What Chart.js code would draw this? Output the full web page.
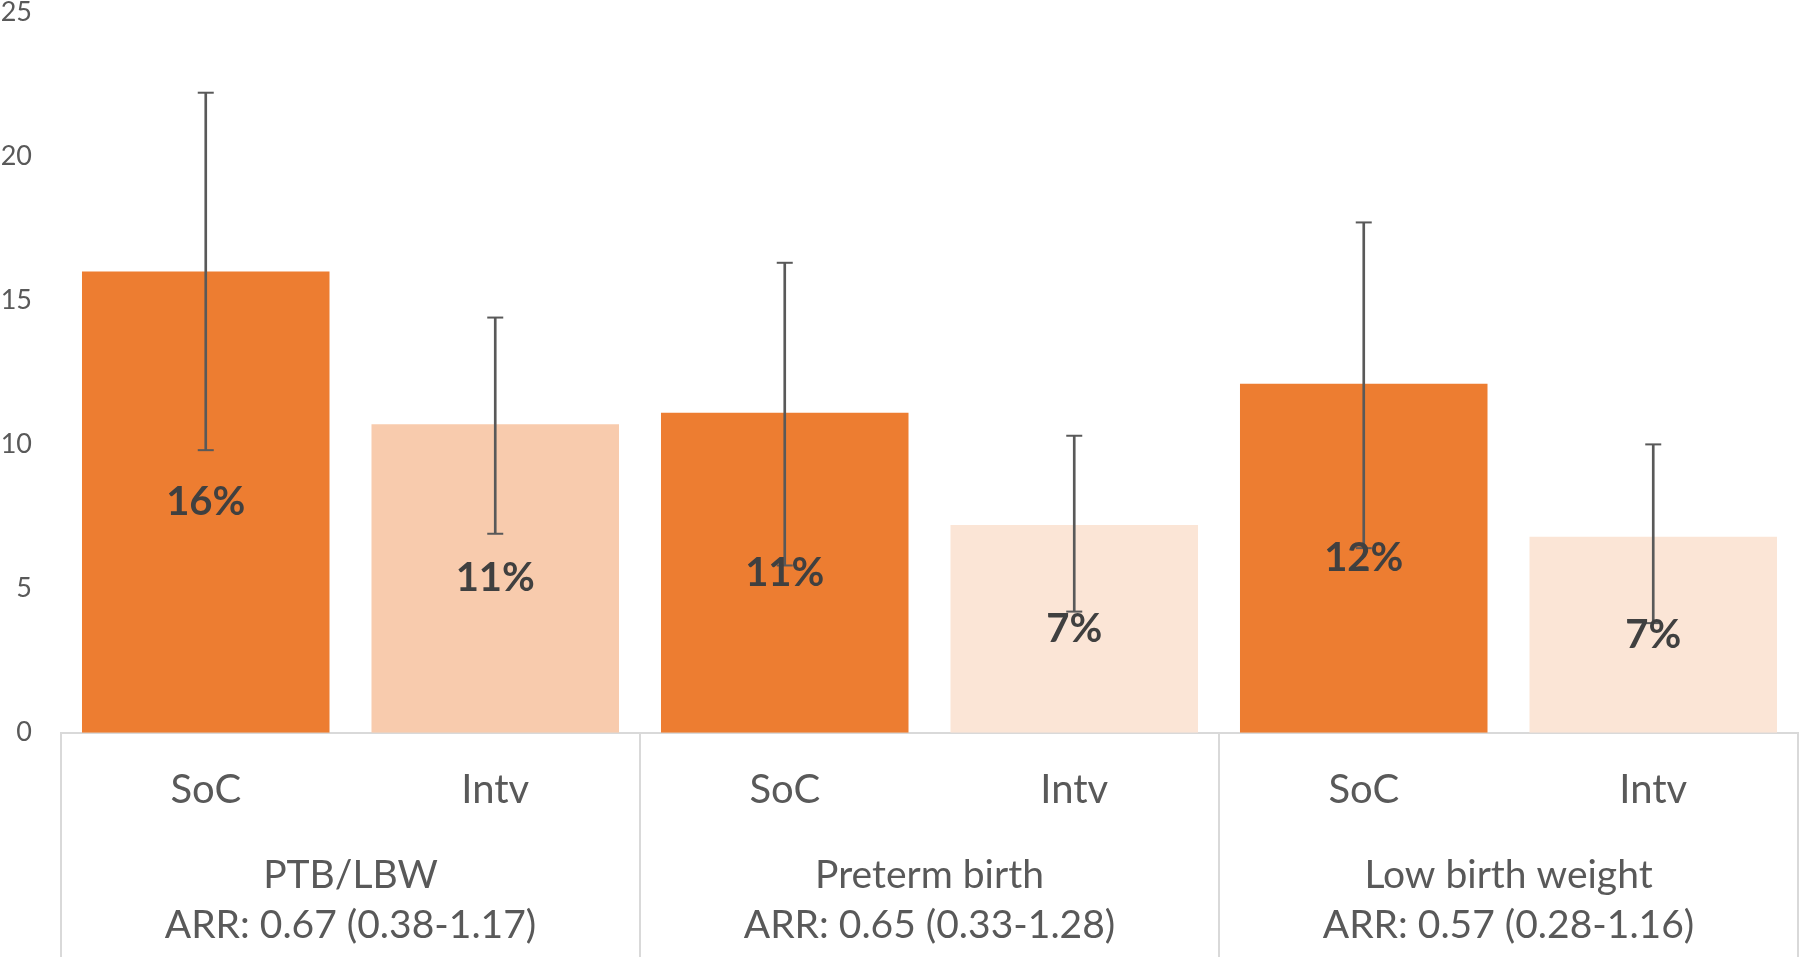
<!DOCTYPE html>
<html>
<head>
<meta charset="utf-8">
<script src="https://cdn.jsdelivr.net/npm/chart.js@4.4.1/dist/chart.umd.min.js"></script>
<style>
  html, body { margin: 0; padding: 0; background: #fff; overflow: hidden; }
  #wrap { width: 1800px; height: 957px; position: relative; }
</style>
</head>
<body>
<div id="wrap"><canvas id="c"></canvas></div>
<script>
// ---- data ----
const categories = ['SoC', 'Intv', 'SoC', 'Intv', 'SoC', 'Intv'];
const values     = [16.0, 10.7, 11.1, 7.2, 12.1, 6.8];
const errLow     = [9.8, 6.9, 5.8, 4.2, 6.4, 3.8];
const errHigh    = [22.2, 14.4, 16.3, 10.3, 17.7, 10.0];
const valueLabels = ['16%', '11%', '11%', '7%', '12%', '7%'];
const groups     = ['PTB/LBW', 'Preterm birth', 'Low birth weight'];
const groupArr   = ['ARR: 0.67 (0.38-1.17)', 'ARR: 0.65 (0.33-1.28)', 'ARR: 0.57 (0.28-1.16)'];
const yTicks     = [0, 5, 10, 15, 20, 25];

const barColors = ['#ED7D31', '#F8CBAD', '#ED7D31', '#FBE5D6', '#ED7D31', '#FBE5D6'];
const FONT = 'Lato, "Open Sans", sans-serif';

const valueLabelPlugin = {
  id: 'valueLabels',
  afterDatasetsDraw(chart) {
    const meta = chart.getDatasetMeta(0);
    const ctx = chart.ctx;
    ctx.save();
    ctx.font = 'bold 40px ' + FONT;
    ctx.fillStyle = '#404040';
    ctx.textAlign = 'center';
    ctx.textBaseline = 'middle';
    meta.data.forEach((el, i) => {
      const { x, y, base } = el.getProps(['x', 'y', 'base'], true);
      ctx.fillText(valueLabels[i], x, (y + base) / 2);
    });
    ctx.restore();
  }
};

const dividerPlugin = {
  id: 'dividers',
  afterDraw(chart) {
    const xs = chart.scales.x;
    const ctx = chart.ctx;
    const top = chart.chartArea.bottom;
    const bottom = chart.height;
    const n = categories.length;
    const positions = [];
    for (let i = 0; i <= n; i += 2) {
      let px;
      if (i === 0) px = xs.left;
      else if (i === n) px = xs.right;
      else px = (xs.getPixelForValue(i - 1) + xs.getPixelForValue(i)) / 2;
      positions.push(px);
    }
    ctx.save();
    ctx.strokeStyle = '#D9D9D9';
    ctx.lineWidth = 2;
    positions.forEach(px => {
      ctx.beginPath();
      ctx.moveTo(px, top);
      ctx.lineTo(px, bottom);
      ctx.stroke();
    });
    ctx.restore();
  }
};

function noPad(scale) {
  scale.paddingLeft = 0; scale.paddingRight = 0;
  scale.paddingTop = 0; scale.paddingBottom = 0;
}

function build() {
  new Chart(document.getElementById('c'), {
    type: 'bar',
    data: {
      labels: categories,
      datasets: [
        {
          data: values,
          backgroundColor: barColors,
          borderWidth: 0,
          barPercentage: 0.855,
          categoryPercentage: 1,
          grouped: false,
          order: 3
        },
        {
          data: errLow.map((v, i) => [v, errHigh[i]]),
          backgroundColor: '#595959',
          borderWidth: 0,
          barThickness: 2,
          grouped: false,
          order: 2
        },
        {
          type: 'line',
          data: errHigh,
          showLine: false,
          pointStyle: 'line',
          pointRadius: 8,
          pointBorderWidth: 2,
          pointBorderColor: '#595959',
          clip: false,
          order: 1
        },
        {
          type: 'line',
          data: errLow,
          showLine: false,
          pointStyle: 'line',
          pointRadius: 8,
          pointBorderWidth: 2,
          pointBorderColor: '#595959',
          clip: false,
          order: 1
        }
      ]
    },
    options: {
      responsive: true,
      maintainAspectRatio: false,
      animation: false,
      events: [],
      layout: { autoPadding: false, padding: { top: 12, bottom: 4.5, left: 0, right: 2 } },
      plugins: { legend: { display: false }, tooltip: { enabled: false } },
      scales: {
        y: {
          min: 0,
          max: 25,
          afterBuildTicks(scale) { scale.ticks = yTicks.map(v => ({ value: v })); },
          afterFit(scale) { scale.width = 61; noPad(scale); },
          grid: { display: false, drawTicks: false },
          border: { display: false },
          ticks: {
            padding: 29,
            color: '#595959',
            font: { family: FONT, size: 27, lineHeight: 0.8 }
          }
        },
        x: {
          type: 'category',
          offset: true,
          weight: 0,
          afterFit: noPad,
          grid: { display: false, drawTicks: false, offset: true },
          border: { display: true, color: '#D9D9D9', width: 2 },
          ticks: {
            padding: 33.5,
            maxRotation: 0,
            autoSkip: false,
            color: '#595959',
            font: { family: FONT, size: 40, lineHeight: 1.2 }
          }
        },
        x2: {
          type: 'category',
          position: 'bottom',
          labels: groups.map((g, i) => [g, groupArr[i]]),
          offset: true,
          weight: 1,
          afterFit: noPad,
          grid: { display: false, drawTicks: false, offset: true },
          border: { display: false },
          ticks: {
            padding: 2.5,
            maxRotation: 0,
            autoSkip: false,
            color: '#595959',
            font: { family: FONT, size: 39, lineHeight: 1.28 }
          }
        }
      }
    },
    plugins: [valueLabelPlugin, dividerPlugin]
  });
}

if (document.fonts && document.fonts.load) {
  Promise.all([
    document.fonts.load('40px Lato'),
    document.fonts.load('bold 40px Lato')
  ]).then(build, build);
} else {
  build();
}
</script>
</body>
</html>
